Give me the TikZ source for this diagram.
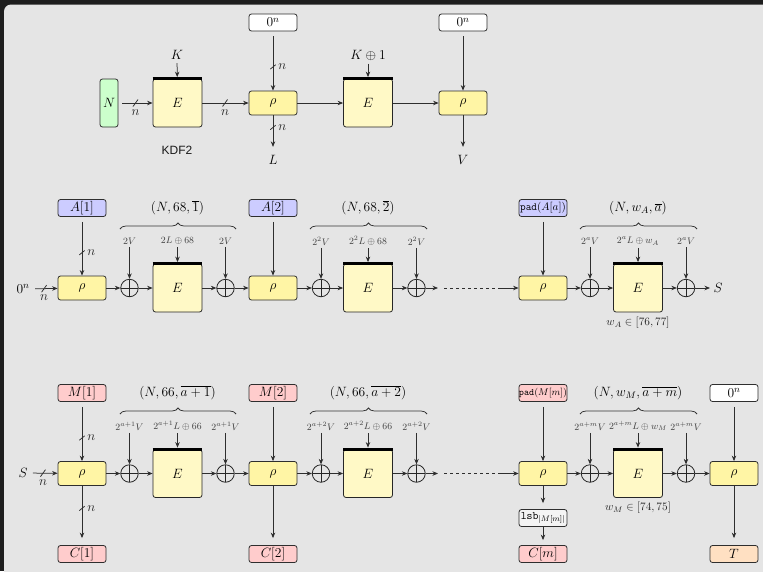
\RequirePackage{fix-cm}
\documentclass[tikz,border=0pt]{standalone}
\usepackage{fontspec}
\usetikzlibrary{arrows.meta,decorations.pathreplacing}
\newfontfamily\kdffont{Liberation Sans}

\definecolor{rhofill}{HTML}{FFF5A5}
\definecolor{efill}{HTML}{FFF9C6}
\definecolor{grnfill}{HTML}{CCFFCC}
\definecolor{blufill}{HTML}{CCCCFF}
\definecolor{redfill}{HTML}{FFCCCC}
\definecolor{tagfill}{HTML}{FFE0C2}
\definecolor{lsbfill}{HTML}{F4F4F4}
\definecolor{panel}{HTML}{E5E5E5}
\definecolor{darkbg}{HTML}{1E1E1E}

% bus-width tick marks on wires
\tikzset{
  bus/.pic={\draw[-, shorten <=0pt, shorten >=0pt, line width=0.75pt, black!82]
    (-2.5,3.5) -- (2.5,-3.5);},
  vbus/.pic={\draw[-, shorten <=0pt, shorten >=0pt, line width=0.75pt, black!82]
    (-2.7,2.2) -- (2.7,-2.2);},
}

\begin{document}
\begin{tikzpicture}[x=1pt, y=-1pt,
  font=\fontsize{13.5}{16}\selectfont,
  wire/.style={line width=0.75pt, draw=black!82},
  arr/.style={wire, -{Stealth[length=5.5pt,width=4.5pt]}},
  rhobox/.style={draw=black!82, line width=0.8pt, rounded corners=2.5pt, fill=rhofill,
    minimum width=48pt, minimum height=24pt, inner sep=0pt},
  ebox/.style={draw=black!85, line width=0.8pt, rounded corners=2.5pt, fill=efill,
    minimum width=49pt, minimum height=48pt, inner sep=0pt},
  iobox/.style={draw=black!82, line width=0.8pt, rounded corners=2.5pt,
    minimum width=48pt, minimum height=17pt, inner sep=0pt},
  xorc/.style={circle, draw=black!85, line width=0.8pt, minimum size=17.5pt, inner sep=0pt,
    path picture={\draw[line width=0.8pt, black!85]
      (path picture bounding box.north) -- (path picture bounding box.south)
      (path picture bounding box.west) -- (path picture bounding box.east);}},
  tweak/.style={font=\fontsize{9.5}{11}\selectfont, text=black!75, inner sep=2.5pt},
  brc/.style={decorate, decoration={brace, amplitude=6pt}, line width=0.75pt, draw=black!80},
  topbar/.style={line width=3pt, draw=black, line cap=butt},
  nlab/.style={inner sep=1pt, text=black!85},
  widthnote/.style={font=\fontsize{11.3}{13}\selectfont, text=black!85},
]
\useasboundingbox (0,0) rectangle (763,571);
\fill[darkbg] (0,0) rectangle (763,571);
\fill[panel, rounded corners=7pt] (4,4.5) rectangle (800,620);

% ---------------- key derivation ----------------
\node[iobox, fill=grnfill, minimum width=18pt, minimum height=48pt] (N) at (109,103) {$N$};
\node[ebox] (E1) at (177.5,103) {$E$};
\node (K) at (177,55) {$K$};
\node[rhobox] (R1) at (273,103) {$\rho$};
\node[iobox, fill=white] (Z1) at (273,22.5) {$0^n$};
\node (L) at (273,160) {$L$};
\node[ebox] (E2) at (368,103) {$E$};
\node (K1) at (368,55) {$K\oplus 1$};
\node[rhobox] (R2) at (463,103) {$\rho$};
\node[iobox, fill=white] (Z2) at (463,22.5) {$0^n$};
\node (V) at (463,160) {$V$};
\node[font=\kdffont\fontsize{12}{14}\selectfont, text=black!90] (kdf) at (177,150) {KDF2};

\foreach \e in {E1,E2} \draw[topbar] (\e.north west) -- (\e.north east);

\draw[arr, shorten <=4pt] (N) -- pic[pos=.5]{bus} node[nlab, pos=.5, below=5pt]{$n$} (E1);
\draw[arr, shorten >=1.5pt] (K) -- (E1);
\draw[arr] (E1) -- pic[pos=.49]{bus} node[nlab, pos=.49, below=5pt]{$n$} (R1);
\draw[arr, shorten <=5pt] (Z1) -- pic[pos=.6]{vbus} node[nlab, pos=.6, right=4pt]{$n$} (R1);
\draw[arr, shorten >=5pt] (R1) -- pic[pos=.33]{vbus} node[nlab, pos=.33, right=4pt]{$n$} (L);
\draw[arr] (R1) -- (E2);
\draw[arr, shorten >=1.5pt] (K1) -- (E2);
\draw[arr] (E2) -- (R2);
\draw[arr, shorten <=5pt] (Z2) -- (R2);
\draw[arr, shorten >=5pt] (R2) -- (V);

% ---------------- associated data ----------------
\node (In) at (23,289) {$0^n$};
\node[rhobox] (RA1) at (82,288) {$\rho$};
\node[iobox, fill=blufill] (A1) at (82,208) {$A[1]$};
\node[xorc] (XA1) at (129.5,288) {};
\node[ebox] (EA1) at (177.5,288) {$E$};
\node[xorc] (XA2) at (225.5,288) {};
\node[tweak] (vA1) at (129.5,241) {$2V$};
\node[tweak] (lA1) at (177.5,241) {$2L\oplus 68$};
\node[tweak] (wA1) at (225.5,241) {$2V$};
\node (tA1) at (177.5,208) {$(N,68,\overline{1})$};

\node[rhobox] (RA2) at (273,288) {$\rho$};
\node[iobox, fill=blufill] (A2) at (273,208) {$A[2]$};
\node[xorc] (XA3) at (321,288) {};
\node[ebox] (EA2) at (368,288) {$E$};
\node[xorc] (XA4) at (416.5,288) {};
\node[tweak] (vA2) at (321,241) {$2^2V$};
\node[tweak] (lA2) at (368,241) {$2^2L\oplus 68$};
\node[tweak] (wA2) at (416.5,241) {$2^2V$};
\node (tA2) at (368,208) {$(N,68,\overline{2})$};
\coordinate (dA1) at (438,288);
\coordinate (dA2) at (444,288);
\coordinate (dA3) at (499,288);

\node[rhobox] (RA3) at (543,288) {$\rho$};
\node[iobox, fill=blufill, font=\fontsize{11}{12}\selectfont] (A3) at (543,208) {$\texttt{pad}(A[a])$};
\node[xorc] (XA5) at (590,288) {};
\node[ebox] (EA3) at (638,288) {$E$};
\node[xorc] (XA6) at (686,288) {};
\node[tweak] (vA3) at (590,241) {$2^aV$};
\node[tweak] (lA3) at (638,241) {$2^aL\oplus w_A$};
\node[tweak] (wA3) at (686,241) {$2^aV$};
\node (tA3) at (638,208) {$(N,w_A,\overline{a})$};
\node (S1) at (718,288) {$S$};
\node[widthnote] (rA) at (638,323) {$w_A\in[76,77]$};

\foreach \e in {EA1,EA2,EA3} \draw[topbar] (\e.north west) -- (\e.north east);
\draw[brc] (120,229) -- (236,229);
\draw[brc] (310,229) -- (427,229);
\draw[brc] (580,229) -- (697,229);

\draw[arr, shorten <=2pt] (In) -- pic[pos=.45]{bus} node[nlab, pos=.45, below=5pt]{$n$} (RA1);
\draw[arr, shorten <=5pt] (A1) -- pic[pos=.61]{vbus} node[nlab, pos=.61, right=4pt]{$n$} (RA1);
\draw[arr] (RA1) -- (XA1);
\draw[arr] (XA1) -- (EA1);
\draw[arr] (EA1) -- (XA2);
\draw[arr] (XA2) -- (RA2);
\draw[arr] (vA1) -- (XA1);
\draw[arr, shorten >=1.5pt] (lA1) -- (EA1);
\draw[arr] (wA1) -- (XA2);
\draw[arr, shorten <=5pt] (A2) -- (RA2);
\draw[arr] (RA2) -- (XA3);
\draw[arr] (XA3) -- (EA2);
\draw[arr] (EA2) -- (XA4);
\draw[arr] (vA2) -- (XA3);
\draw[arr, shorten >=1.5pt] (lA2) -- (EA2);
\draw[arr] (wA2) -- (XA4);
\draw[arr] (XA4) -- (dA1);
\draw[wire, dash pattern=on 3pt off 3pt] (dA2) -- (dA3);
\draw[arr] (dA3) -- (RA3);
\draw[arr, shorten <=5pt] (A3) -- (RA3);
\draw[arr] (RA3) -- (XA5);
\draw[arr] (XA5) -- (EA3);
\draw[arr] (EA3) -- (XA6);
\draw[arr] (vA3) -- (XA5);
\draw[arr, shorten >=1.5pt] (lA3) -- (EA3);
\draw[arr] (wA3) -- (XA6);
\draw[arr] (XA6) -- (S1);

% ---------------- message ----------------
\node (S2) at (23,473) {$S$};
\node[rhobox] (RM1) at (82,473.5) {$\rho$};
\node[iobox, fill=redfill] (M1) at (82,393) {$M[1]$};
\node[iobox, fill=redfill] (C1) at (82,554) {$C[1]$};
\node[xorc] (XM1) at (129.5,473.5) {};
\node[ebox] (EM1) at (177.5,473.5) {$E$};
\node[xorc] (XM2) at (225.5,473.5) {};
\node[tweak] (vM1) at (129.5,426) {$2^{a+1}V$};
\node[tweak] (lM1) at (177.5,426) {$2^{a+1}L\oplus 66$};
\node[tweak] (wM1) at (225.5,426) {$2^{a+1}V$};
\node (tM1) at (177.5,393) {$(N,66,\overline{a+1})$};

\node[rhobox] (RM2) at (273,473.5) {$\rho$};
\node[iobox, fill=redfill] (M2) at (273,393) {$M[2]$};
\node[iobox, fill=redfill] (C2) at (273,554) {$C[2]$};
\node[xorc] (XM3) at (321,473.5) {};
\node[ebox] (EM2) at (368,473.5) {$E$};
\node[xorc] (XM4) at (416.5,473.5) {};
\node[tweak] (vM2) at (321,426) {$2^{a+2}V$};
\node[tweak] (lM2) at (368,426) {$2^{a+2}L\oplus 66$};
\node[tweak] (wM2) at (416.5,426) {$2^{a+2}V$};
\node (tM2) at (368,393) {$(N,66,\overline{a+2})$};
\coordinate (dM1) at (438,473.5);
\coordinate (dM2) at (444,473.5);
\coordinate (dM3) at (499,473.5);

\node[rhobox] (RM3) at (543,473.5) {$\rho$};
\node[iobox, fill=redfill, font=\fontsize{9.7}{11}\selectfont] (M3) at (543,393) {$\texttt{pad}(M[m])$};
\node[iobox, fill=lsbfill, font=\fontsize{11.5}{13}\selectfont] (T3) at (543,518) {$\texttt{lsb}_{|M[m]|}$};
\node[iobox, fill=redfill] (C3) at (543,554) {$C[m]$};
\node[xorc] (XM5) at (590,473.5) {};
\node[ebox] (EM3) at (638,473.5) {$E$};
\node[xorc] (XM6) at (686,473.5) {};
\node[tweak] (vM3) at (590,426) {$2^{a+m}V$};
\node[tweak] (lM3) at (638,426) {$2^{a+m}L\oplus w_M$};
\node[tweak] (wM3) at (686,426) {$2^{a+m}V$};
\node (tM3) at (638,393) {$(N,w_M,\overline{a+m})$};
\node[widthnote] (rM) at (638,508) {$w_M\in[74,75]$};

\node[rhobox] (RT) at (734,473.5) {$\rho$};
\node[iobox, fill=white] (Z3) at (734,393) {$0^n$};
\node[iobox, fill=tagfill] (Tg) at (734,554) {$T$};

\foreach \e in {EM1,EM2,EM3} \draw[topbar] (\e.north west) -- (\e.north east);
\draw[brc] (120,414) -- (236,414);
\draw[brc] (310,414) -- (427,414);
\draw[brc] (580,414) -- (697,414);

\draw[arr, shorten <=2pt] (S2) -- pic[pos=.45]{bus} node[nlab, pos=.45, below=5pt]{$n$} (RM1);
\draw[arr, shorten <=5pt] (M1) -- pic[pos=.61]{vbus} node[nlab, pos=.61, right=4pt]{$n$} (RM1);
\draw[arr, shorten >=7pt] (RM1) -- pic[pos=.38]{vbus} node[nlab, pos=.38, right=4pt]{$n$} (C1);
\draw[arr] (RM1) -- (XM1);
\draw[arr] (XM1) -- (EM1);
\draw[arr] (EM1) -- (XM2);
\draw[arr] (XM2) -- (RM2);
\draw[arr] (vM1) -- (XM1);
\draw[arr, shorten >=1.5pt] (lM1) -- (EM1);
\draw[arr] (wM1) -- (XM2);
\draw[arr, shorten <=5pt] (M2) -- (RM2);
\draw[arr, shorten >=7pt] (RM2) -- (C2);
\draw[arr] (RM2) -- (XM3);
\draw[arr] (XM3) -- (EM2);
\draw[arr] (EM2) -- (XM4);
\draw[arr] (vM2) -- (XM3);
\draw[arr, shorten >=1.5pt] (lM2) -- (EM2);
\draw[arr] (wM2) -- (XM4);
\draw[arr] (XM4) -- (dM1);
\draw[wire, dash pattern=on 3pt off 3pt] (dM2) -- (dM3);
\draw[arr] (dM3) -- (RM3);
\draw[arr, shorten <=5pt] (M3) -- (RM3);
\draw[arr, shorten >=6pt] (RM3) -- (T3);
\draw[arr, shorten >=5pt] (T3) -- (C3);
\draw[arr] (RM3) -- (XM5);
\draw[arr] (XM5) -- (EM3);
\draw[arr] (EM3) -- (XM6);
\draw[arr] (vM3) -- (XM5);
\draw[arr, shorten >=1.5pt] (lM3) -- (EM3);
\draw[arr] (wM3) -- (XM6);
\draw[arr] (XM6) -- (RT);
\draw[arr, shorten <=5pt] (Z3) -- (RT);
\draw[arr, shorten >=7pt] (RT) -- (Tg);
\end{tikzpicture}
\end{document}
